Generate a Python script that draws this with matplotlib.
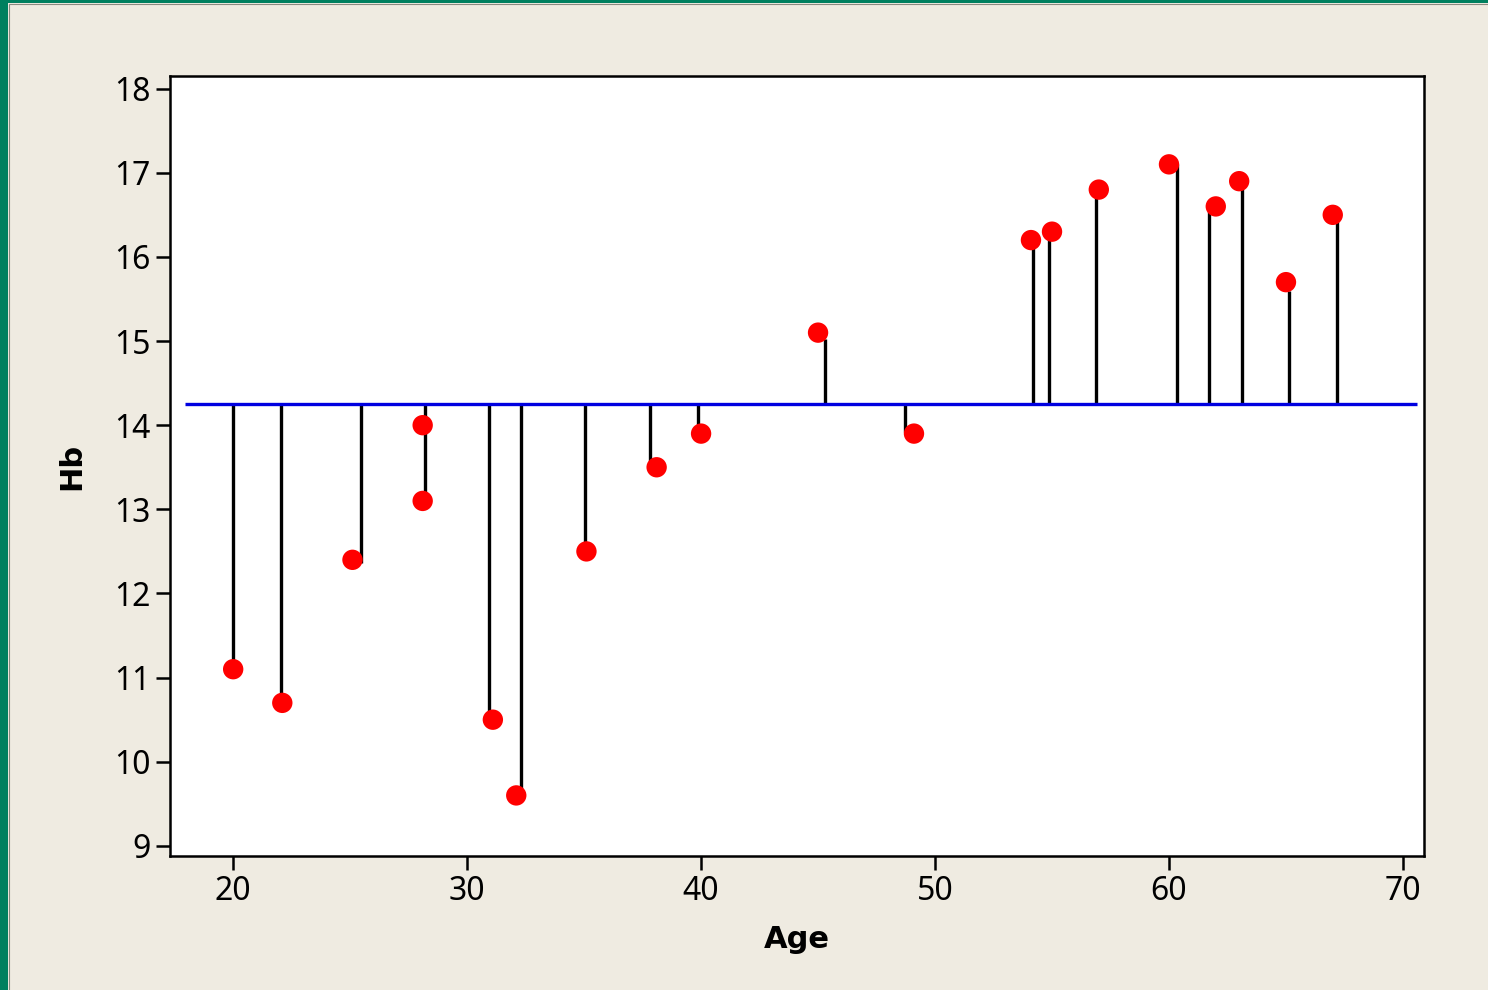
import matplotlib
matplotlib.use("Agg")
import matplotlib.pyplot as plt
from matplotlib.patches import Rectangle

plt.rcParams["font.family"] = ["Noto Sans", "DejaVu Sans"]

# data
age = [20.0, 22.1, 25.1, 28.1, 28.1, 31.1, 32.1, 35.1, 38.1, 40.0,
       45.0, 49.1, 54.1, 55.0, 57.0, 60.0, 62.0, 63.0, 65.0, 67.0]
hb = [11.1, 10.7, 12.4, 14.0, 13.1, 10.5, 9.6, 12.5, 13.5, 13.9,
      15.1, 13.9, 16.2, 16.3, 16.8, 17.1, 16.6, 16.9, 15.7, 16.5]

# stems (slightly offset from the points in the original)
stem_x = [20.0, 22.05, 25.45, 28.2, 30.95, 32.3, 35.05, 37.8, 39.85,
          45.3, 48.7, 54.2, 54.85, 56.9, 60.35, 61.7, 63.1, 65.15, 67.2]
stem_end = [11.1, 10.7, 12.36, 13.12, 10.5, 9.66, 12.54, 13.53, 13.92,
            15.02, 13.92, 16.16, 16.35, 16.73, 17.11, 16.54, 16.92, 15.59, 16.54]
mean_hb = 14.25

xticks = [20, 30, 40, 50, 60, 70]
yticks = [9, 10, 11, 12, 13, 14, 15, 16, 17, 18]

fig = plt.figure(figsize=(14.88, 9.90), dpi=100)
fig.patch.set_facecolor("#efebe1")

# green frame on the left and top edge
fig.patches.append(Rectangle((0, 0), 8 / 1488, 1, transform=fig.transFigure,
                             facecolor="#00805f", edgecolor="none"))
fig.patches.append(Rectangle((0, 1 - 3 / 990), 1, 3 / 990, transform=fig.transFigure,
                             facecolor="#00805f", edgecolor="none"))
# thin grey edge of the inner panel
fig.patches.append(Rectangle((9 / 1488, -0.01), 1, 1 - 4 / 990 + 0.01,
                             transform=fig.transFigure, facecolor="none",
                             edgecolor="#8a8a80", linewidth=0.8))

ax = fig.add_axes([170 / 1488, 1 - 856 / 990, (1424 - 170) / 1488, (856 - 76) / 990])
ax.set_facecolor("white")

ax.vlines(stem_x, mean_hb, stem_end, color="black", linewidth=2.4, zorder=2)
ax.hlines(mean_hb, 17.95, 70.6, color="#0000e0", linewidth=2.4, zorder=3)
ax.scatter(age, hb, s=215, color="#ff0000", edgecolors="none", zorder=4)

ax.set_xlim(17.3, 70.9)
ax.set_ylim(8.88, 18.15)
ax.set_xticks(xticks)
ax.set_yticks(yticks)

for s in ax.spines.values():
    s.set_linewidth(1.8)
ax.tick_params(axis="both", direction="out", length=10, width=1.8,
               labelsize=23, pad=4)

ax.set_xlabel("Age", fontsize=22, fontweight="bold", family="DejaVu Sans", labelpad=12)
ax.set_ylabel("Hb", fontsize=22, fontweight="bold", family="DejaVu Sans", labelpad=20)

fig.savefig("out.png", dpi=100, facecolor=fig.get_facecolor())
